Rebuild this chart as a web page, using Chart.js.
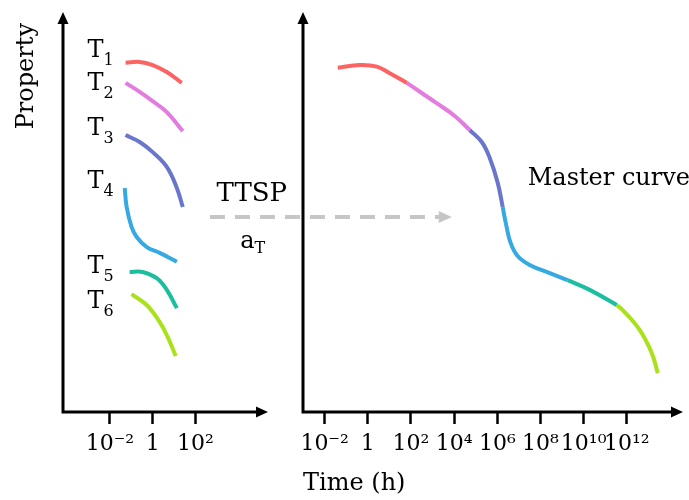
<!DOCTYPE html>
<html>
<head>
<meta charset="utf-8">
<script src="https://cdn.jsdelivr.net/npm/chart.js@4/dist/chart.umd.min.js"></script>
<style>
  body { margin: 0; background: #fff; }
  .box { position: absolute; left: 0; top: 0; width: 689px; height: 500px; }
</style>
</head>
<body>
<div class="box"><canvas id="chart-curves"></canvas></div>
<div class="box"><canvas id="chart-master"></canvas></div>
<script>
// x values are log10(time in h), y values are the property in arbitrary units (0-100)
const leftTicks = [-2, 0, 2];
const leftTickLabels = ['10⁻²', '1', '10²'];
const rightTicks = [-2, 0, 2, 4, 6, 8, 10, 12];
const rightTickLabels = ['10⁻²', '1', '10²', '10⁴', '10⁶', '10⁸', '10¹⁰', '10¹²'];

const tempNames = ['1', '2', '3', '4', '5', '6'];
const curveColors = ['#fc6464', '#e27ddf', '#6a76cb', '#36a9e2', '#1cbea0', '#a9e11a'];

// curves measured at each temperature
const t1LogTime = [-1.27, -0.61, 0, 0.66, 1.36];
const t1Prop = [89.8, 90.0, 89.2, 87.4, 84.6];
const t2LogTime = [-1.27, -0.61, 0, 0.66, 1.41];
const t2Prop = [84.6, 82.3, 79.9, 77.1, 72.2];
const t3LogTime = [-1.27, -0.61, 0, 0.66, 1.13, 1.41];
const t3Prop = [71.2, 69.4, 66.8, 63.0, 57.6, 52.7];
const t4LogTime = [-1.31, -1.22, -0.99, -0.75, -0.28, 0.33, 1.13];
const t4Prop = [57.6, 52.7, 47.6, 45.0, 42.4, 40.9, 38.6];
const t5LogTime = [-1.08, -0.47, 0.19, 0.66, 1.13];
const t5Prop = [36.0, 36.0, 34.4, 31.4, 26.7];
const t6LogTime = [-0.99, -0.28, 0.33, 0.70, 1.08];
const t6Prop = [30.3, 27.5, 23.1, 19.3, 14.4];

// shifted pieces of the master curve
const m1LogTime = [-1.39, -0.37, 0.42, 1.02, 1.81];
const m1Prop = [88.5, 89.2, 88.8, 87.1, 84.6];
const m2LogTime = [1.81, 2.5, 3.19, 4.03, 4.72];
const m2Prop = [84.6, 82.0, 79.4, 76.1, 72.5];
const m3LogTime = [4.72, 5.28, 5.65, 6.02, 6.25];
const m3Prop = [72.5, 69.4, 65.3, 58.9, 52.7];
const m4LogTime = [6.25, 6.41, 6.62, 6.94, 7.5, 8.43, 9.26];
const m4Prop = [52.7, 48.1, 43.4, 40.1, 37.8, 35.7, 33.9];
const m5LogTime = [9.26, 10.28, 11.53];
const m5Prop = [33.9, 31.4, 27.5];
const m6LogTime = [11.53, 11.81, 12.59, 13.15, 13.43];
const m6Prop = [27.5, 26.2, 21.1, 15.2, 10.0];

const leftCurves = [[t1LogTime, t1Prop], [t2LogTime, t2Prop], [t3LogTime, t3Prop],
                    [t4LogTime, t4Prop], [t5LogTime, t5Prop], [t6LogTime, t6Prop]];
const masterPieces = [[m1LogTime, m1Prop], [m2LogTime, m2Prop], [m3LogTime, m3Prop],
                      [m4LogTime, m4Prop], [m5LogTime, m5Prop], [m6LogTime, m6Prop]];

Chart.defaults.font.family = "'DejaVu Serif', serif";
Chart.defaults.color = '#000';

function toDatasets(curves) {
  return curves.map(([xs, ys], i) => ({
    label: 'T' + tempNames[i],
    data: xs.map((x, j) => ({ x: x, y: ys[j] })),
    borderColor: curveColors[i],
    borderWidth: 4,
    pointRadius: 0,
    tension: 0.4,
    fill: false
  }));
}

function drawArrows(ctx, a) {
  ctx.save();
  ctx.strokeStyle = '#000';
  ctx.fillStyle = '#000';
  ctx.lineWidth = 3;
  ctx.beginPath();
  ctx.moveTo(a.left, a.bottom + 1.5);
  ctx.lineTo(a.left, a.top);
  ctx.moveTo(a.left - 1.5, a.bottom);
  ctx.lineTo(a.right - 10, a.bottom);
  ctx.stroke();
  ctx.beginPath();
  ctx.moveTo(a.left, a.top - 11);
  ctx.lineTo(a.left - 5.5, a.top + 1);
  ctx.lineTo(a.left + 5.5, a.top + 1);
  ctx.closePath();
  ctx.fill();
  ctx.beginPath();
  ctx.moveTo(a.right, a.bottom);
  ctx.lineTo(a.right - 12, a.bottom - 5.5);
  ctx.lineTo(a.right - 12, a.bottom + 5.5);
  ctx.closePath();
  ctx.fill();
  ctx.restore();
}

function subText(ctx, main, sub, x, y, size, subSize, drop, align) {
  ctx.font = size + "px 'DejaVu Serif'";
  const w1 = ctx.measureText(main).width;
  ctx.font = subSize + "px 'DejaVu Serif'";
  const w2 = ctx.measureText(sub).width;
  let x0 = x;
  if (align === 'center') x0 = x - (w1 + w2) / 2;
  ctx.textAlign = 'left';
  ctx.textBaseline = 'alphabetic';
  ctx.font = size + "px 'DejaVu Serif'";
  ctx.fillText(main, x0, y);
  ctx.font = subSize + "px 'DejaVu Serif'";
  ctx.fillText(sub, x0 + w1, y + drop);
}

// label anchors for T1..T6 (left edge, baseline) in data units of the left panel
const tLabelX = -3.05;
const tLabelY = [91.3, 82.8, 71.2, 57.6, 35.7, 26.7];

const leftPlugin = {
  id: 'leftDecor',
  afterDraw(chart) {
    const { ctx, chartArea, scales } = chart;
    drawArrows(ctx, chartArea);
    ctx.save();
    ctx.fillStyle = '#000';
    tempNames.forEach((n, i) => {
      subText(ctx, 'T', n, scales.x.getPixelForValue(tLabelX), scales.y.getPixelForValue(tLabelY[i]), 24, 16, 8, 'left');
    });
    ctx.restore();
  }
};

const rightPlugin = {
  id: 'rightDecor',
  afterDraw(chart) {
    const { ctx, chartArea, scales } = chart;
    const sx = scales.x, sy = scales.y;
    drawArrows(ctx, chartArea);
    ctx.save();
    // TTSP shift arrow
    const ay = sy.getPixelForValue(50.1);
    const ax0 = sx.getPixelForValue(-7.31);
    const ax1 = sx.getPixelForValue(3.89);
    ctx.strokeStyle = '#c6c6c6';
    ctx.fillStyle = '#c6c6c6';
    ctx.lineWidth = 4;
    ctx.setLineDash([15, 10]);
    ctx.beginPath();
    ctx.moveTo(ax0, ay);
    ctx.lineTo(ax1 - 12, ay);
    ctx.stroke();
    ctx.setLineDash([]);
    ctx.beginPath();
    ctx.moveTo(ax1, ay);
    ctx.lineTo(ax1 - 13, ay - 6);
    ctx.lineTo(ax1 - 13, ay + 6);
    ctx.closePath();
    ctx.fill();

    ctx.fillStyle = '#000';
    ctx.font = "26px 'DejaVu Serif'";
    ctx.textAlign = 'center';
    ctx.textBaseline = 'alphabetic';
    ctx.fillText('TTSP', sx.getPixelForValue(-5.37), sy.getPixelForValue(54.2));
    subText(ctx, 'a', 'T', sx.getPixelForValue(-5.33), sy.getPixelForValue(42.2), 24, 16, 5, 'center');

    ctx.font = "24px 'DejaVu Serif'";
    ctx.textAlign = 'left';
    ctx.fillText('Master curve', sx.getPixelForValue(7.41), sy.getPixelForValue(58.4));
    ctx.restore();
  }
};

function xScale(min, max, ticks, labels, title) {
  return {
    type: 'linear',
    min: min,
    max: max,
    afterBuildTicks: s => { s.ticks = ticks.map(v => ({ value: v })); },
    afterFit: s => { s.height = 88; },
    grid: { drawOnChartArea: false, drawTicks: true, tickLength: 12, tickColor: '#000', tickWidth: 2.5 },
    border: { display: false },
    ticks: {
      autoSkip: false, maxRotation: 0, padding: 7,
      font: { size: 22 },
      callback: (v, i) => labels[i]
    },
    title: title
  };
}

new Chart(document.getElementById('chart-curves'), {
  type: 'line',
  data: { datasets: toDatasets(leftCurves) },
  options: {
    responsive: true,
    maintainAspectRatio: false,
    animation: false,
    layout: { padding: { top: 23, right: 421, bottom: 0, left: 0 } },
    plugins: { legend: { display: false }, tooltip: { enabled: false } },
    scales: {
      x: xScale(-4.2, 5.4, leftTicks, leftTickLabels, { display: false }),
      y: {
        min: 0, max: 100,
        afterFit: s => { s.width = 63; },
        ticks: { display: false },
        grid: { display: false },
        border: { display: false },
        title: { display: true, text: 'Property', align: 'end', font: { size: 24 }, padding: { top: 12, bottom: 0 } }
      }
    }
  },
  plugins: [leftPlugin]
});

new Chart(document.getElementById('chart-master'), {
  type: 'line',
  data: { datasets: toDatasets(masterPieces) },
  options: {
    responsive: true,
    maintainAspectRatio: false,
    animation: false,
    layout: { padding: { top: 23, right: 6, bottom: 0, left: 0 } },
    plugins: { legend: { display: false }, tooltip: { enabled: false } },
    scales: {
      x: xScale(-3.0, 14.6, rightTicks, rightTickLabels,
        { display: true, text: 'Time (h)', align: 'start', font: { size: 24 }, padding: { top: 0, bottom: 2 } }),
      y: {
        min: 0, max: 100,
        afterFit: s => { s.width = 303; },
        ticks: { display: false },
        grid: { display: false },
        border: { display: false }
      }
    }
  },
  plugins: [rightPlugin]
});
</script>
</body>
</html>
